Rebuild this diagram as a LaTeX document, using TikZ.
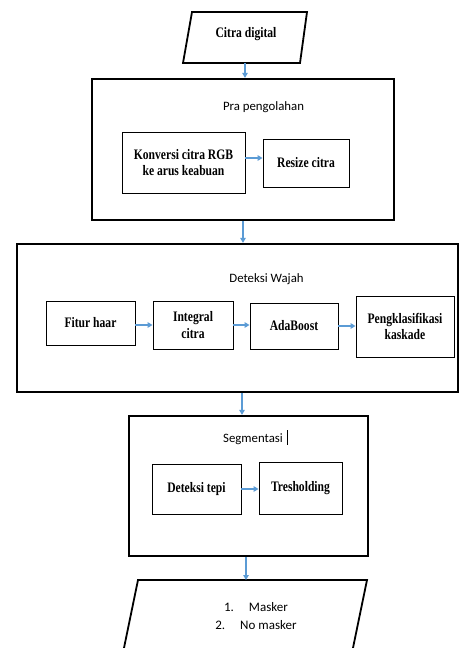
\documentclass[tikz,border=0pt]{standalone}
\usepackage{fontspec}
\newfontfamily\boxfont{Liberation Serif}[FakeStretch=0.8]
\newfontfamily\titlefont{Carlito}
\usetikzlibrary{arrows.meta}
\definecolor{arrblue}{HTML}{5B9BD5}
\begin{document}
\begin{tikzpicture}[x=1pt,y=-1pt,
  outerbox/.style={draw, line width=2.2pt, inner sep=0pt},
  innerbox/.style={draw, line width=0.9pt, inner sep=0pt, align=center,
    font=\boxfont\bfseries\fontsize{14.5}{16.5}\selectfont},
  titletext/.style={font=\titlefont\fontsize{12.8}{15}\selectfont, inner sep=0pt, anchor=base},
  arr/.style={draw=arrblue, line width=1.4pt, -{Triangle[length=5pt,width=5.5pt]}},
  para/.style={draw, line width=1.8pt, line join=miter}
]
\useasboundingbox[fill=white] (0,0) rectangle (459,648);

% input
\draw[para] (192,12) -- (307,12) -- (300,63) -- (183,63) -- cycle;
\node[font=\boxfont\bfseries\fontsize{14.5}{16}\selectfont, inner sep=0pt] (citra) at (246,34) {Citra digital};
\coordinate (citrabot) at (245,63);

% Pra pengolahan
\node[outerbox, minimum width=302pt, minimum height=141pt] (pra) at (243,149.5) {};
\node[titletext] (pratitle) at (263.5,110.5) {Pra pengolahan};
\node[innerbox, minimum width=123pt, minimum height=61pt] (konv) at (183.5,162.5) {Konversi citra RGB\\ke arus keabuan};
\node[innerbox, minimum width=86pt, minimum height=48pt] (resize) at (306,163) {Resize citra};

% Deteksi Wajah
\node[outerbox, minimum width=441pt, minimum height=148pt] (det) at (237.5,318) {};
\node[titletext] (dettitle) at (266.5,282) {Deteksi Wajah};
\node[innerbox, minimum width=89pt, minimum height=44pt] (fitur) at (90.5,323) {Fitur haar};
\node[innerbox, minimum width=80pt, minimum height=48pt] (integral) at (193,325) {Integral\\citra};
\node[innerbox, minimum width=88pt, minimum height=46pt] (ada) at (294,326) {AdaBoost};
\node[innerbox, minimum width=98pt, minimum height=61pt] (pengk) at (405,326.5) {Pengklasifikasi\\kaskade};

% Segmentasi
\node[outerbox, minimum width=239pt, minimum height=140pt] (seg) at (248.5,486) {};
\node[titletext] (segtitle) at (253,442.5) {Segmentasi};
\draw[line width=0.6pt] (287,430) -- (287,445);
\node[innerbox, minimum width=89pt, minimum height=50pt] (tepi) at (196.5,489) {Deteksi tepi};
\node[innerbox, minimum width=83pt, minimum height=52pt] (tresh) at (300.5,488) {Tresholding};

% output
\draw[para] (138,580) -- (367,580) -- (350.5,660) -- (121.5,660) -- cycle;
\coordinate (outtop) at (246,580);
\node[font=\titlefont\fontsize{13}{17.5}\selectfont, align=center, inner sep=0pt] (outtxt) at (256,616)
  {1.\hspace{15pt}Masker\\2.\hspace{15pt}No masker};

% connectors
\draw[arr] (citrabot) -- (citrabot |- pra.north);
\draw[arr] (pra.south) -- (pra.south |- det.north);
\draw[arr] ([xshift=4.5pt]det.south) -- ([xshift=4.5pt]det.south |- seg.north);
\draw[arr] (seg.south -| outtop) -- (outtop);
\draw[arr] ([yshift=4.5pt]konv.east) -- ([yshift=4.5pt]konv.east -| resize.west);
\draw[arr] (integral.west -| fitur.east) -- (integral.west);
\draw[arr] (integral.east) -- (integral.east -| ada.west);
\draw[arr] (ada.east) -- (ada.east -| pengk.west);
\draw[arr] (tepi.east) -- (tepi.east -| tresh.west);
\end{tikzpicture}
\end{document}
